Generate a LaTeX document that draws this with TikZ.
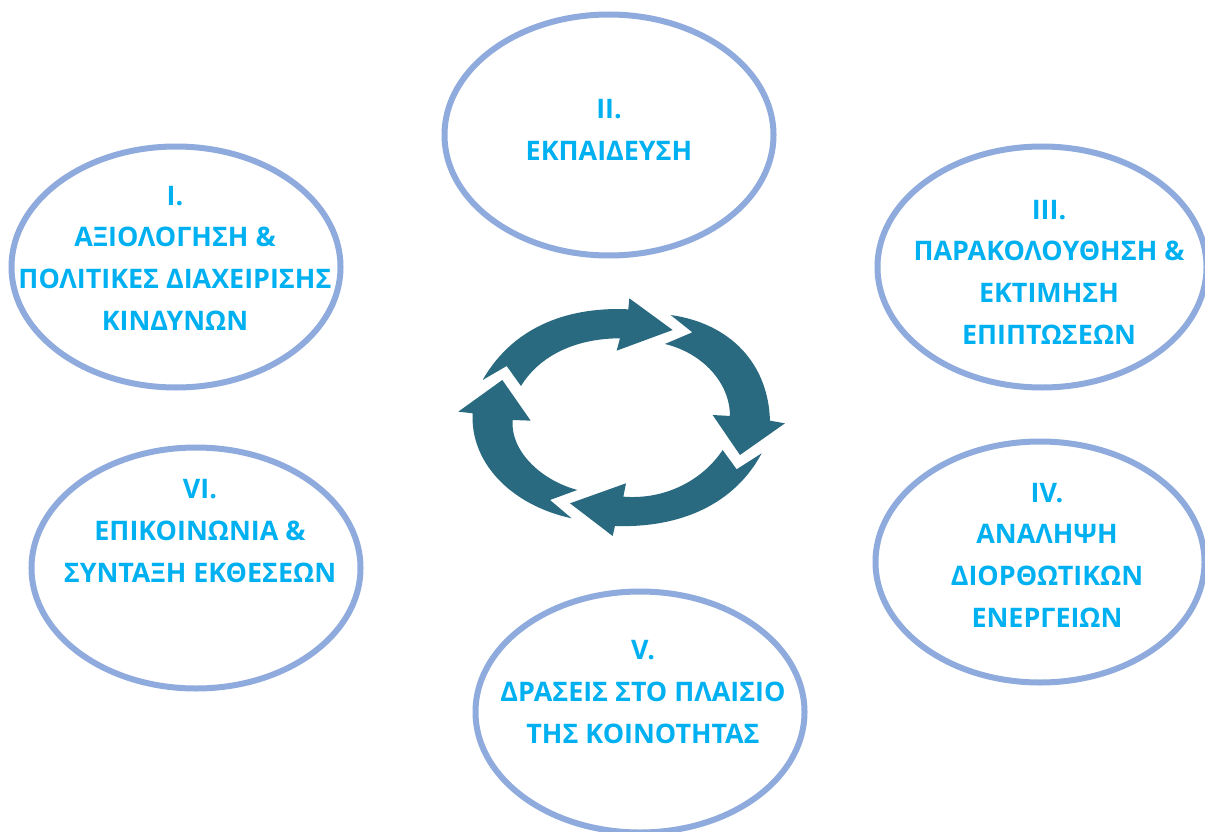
\documentclass[tikz,border=0pt]{standalone}
\usepackage{fontspec}
\setmainfont{Open Sans}
\usetikzlibrary{shapes.geometric}
\definecolor{ringblue}{HTML}{8FAADC}
\definecolor{textblue}{HTML}{00B0F0}
\definecolor{cycleteal}{HTML}{2A6A80}
\tikzset{
  phase/.style={ellipse, draw=ringblue, line width=6pt, minimum width=329pt, minimum height=241pt, inner sep=0pt, outer sep=0pt},
  phasetext/.style={text=textblue, align=center, inner sep=0pt, font=\fontsize{26.9}{41.6}\selectfont\bfseries},
  cyclearrow/.style={fill=cycleteal, draw=none}
}
\begin{document}
\begin{tikzpicture}[x=1pt, y=-1pt]
  \useasboundingbox (0,0) rectangle (1205,832);
  \node (e1) [phase] at (176,267) {};
  \node (e2) [phase] at (609,135) {};
  \node (e3) [phase] at (1042,267) {};
  \node (e4) [phase] at (1040,562) {};
  \node (e5) [phase] at (640,712) {};
  \node (e6) [phase] at (196,568) {};

  \node (t1) [phasetext] at (175,258) {I.\\ΑΞΙΟΛΟΓΗΣΗ \&\\ΠΟΛΙΤΙΚΕΣ ΔΙΑΧΕΙΡΙΣΗΣ\\ΚΙΝΔΥΝΩΝ};
  \node (t2) [phasetext] at (609,130) {II.\\ΕΚΠΑΙΔΕΥΣΗ};
  \node (t3) [phasetext] at (1049,272) {III.\\ΠΑΡΑΚΟΛΟΥΘΗΣΗ \&\\ΕΚΤΙΜΗΣΗ\\ΕΠΙΠΤΩΣΕΩΝ};
  \node (t4) [phasetext] at (1047,555) {IV.\\ΑΝΑΛΗΨΗ\\ΔΙΟΡΘΩΤΙΚΩΝ\\ΕΝΕΡΓΕΙΩΝ};
  \node (t5) [phasetext] at (643,692) {V.\\ΔΡΑΣΕΙΣ ΣΤΟ ΠΛΑΙΣΙΟ\\ΤΗΣ ΚΟΙΝΟΤΗΤΑΣ};
  \node (t6) [phasetext] at (200,531) {VI.\\ΕΠΙΚΟΙΝΩΝΙΑ \&\\ΣΥΝΤΑΞΗ ΕΚΘΕΣΕΩΝ};

  \begin{scope}[shift={(440,280)}, x=0.3333pt, y=-0.3333pt]
    \fill[cyclearrow] (128,300) -- (200,258) -- (243,318)
      .. controls (300,225) and (410,175) .. (540,175)
      -- (530,212) -- (698,150) -- (568,55) -- (565,88)
      .. controls (400,80) and (225,130) .. (128,300) -- cycle;
    \fill[cyclearrow] (692,105) -- (757,157) -- (675,192)
      .. controls (790,220) and (870,310) .. (870,408)
      -- (818,405) -- (900,525) -- (1035,430) -- (990,422)
      .. controls (985,250) and (870,130) .. (692,105) -- cycle;
    \fill[cyclearrow] (965,520) -- (890,568) -- (848,510)
      .. controls (785,605) and (670,660) .. (550,650)
      -- (558,610) -- (390,670) -- (518,768) -- (525,738)
      .. controls (725,745) and (885,670) .. (965,520) -- cycle;
    \fill[cyclearrow] (395,715) -- (330,660) -- (412,630)
      .. controls (300,600) and (210,510) .. (218,420)
      -- (272,422) -- (187,300) -- (55,395) -- (98,400)
      .. controls (90,545) and (210,675) .. (395,715) -- cycle;
  \end{scope}
\end{tikzpicture}
\end{document}
